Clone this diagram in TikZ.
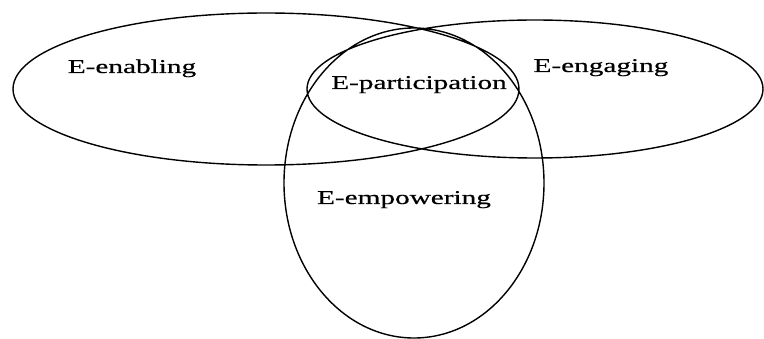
\documentclass[tikz,border=0pt]{standalone}
\usepackage{fontspec}
\setmainfont{Liberation Serif}[FakeStretch=1.5,FakeBold=0.6]
\begin{document}
\begin{tikzpicture}[x=1pt,y=-1pt,line width=1.4pt,
    label/.style={anchor=base,font=\fontsize{19.5}{23}\selectfont}]
  \useasboundingbox (0,0) rectangle (764,339);
  % the three sets
  \draw
    (266,89) ellipse [x radius=253pt, y radius=76pt]
    (535,89) ellipse [x radius=228pt, y radius=69pt]
    (414,183) ellipse [x radius=130pt, y radius=155pt];
  % set names
  \draw
    (132,73) node[label] (enabling){E-enabling}
    (419,89) node[label] (participation){E-participation}
    (601,72) node[label] (engaging){E-engaging}
    (404,204) node[label] (empowering){E-empowering};
\end{tikzpicture}
\end{document}
